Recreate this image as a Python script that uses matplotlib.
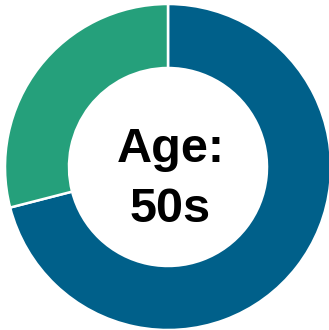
import matplotlib.pyplot as plt

# share of each group, clockwise from the top
labels = ['Other', 'Age 50s']
shares = [71, 29]
colors = ['#00608a', '#25a07b']

W, H = 329, 330

fig = plt.figure(figsize=(W / 100, H / 100), dpi=100)
ax = fig.add_axes([0, 0, 1, 1])

ax.pie(shares, colors=colors, startangle=90, counterclock=False,
       radius=163, center=(168, H - 167),
       wedgeprops=dict(width=64, edgecolor='white', linewidth=1.8))

ax.text(171, H - 162, 'Age:', ha='center', va='baseline',
        fontsize=35, fontweight='bold', family='Liberation Sans')
ax.text(170, H - 222, '50s', ha='center', va='baseline',
        fontsize=35, fontweight='bold', family='Liberation Sans')

ax.set_xlim(0, W)
ax.set_ylim(0, H)
ax.set_aspect('equal')
ax.axis('off')

fig.savefig('out.png', dpi=100)
